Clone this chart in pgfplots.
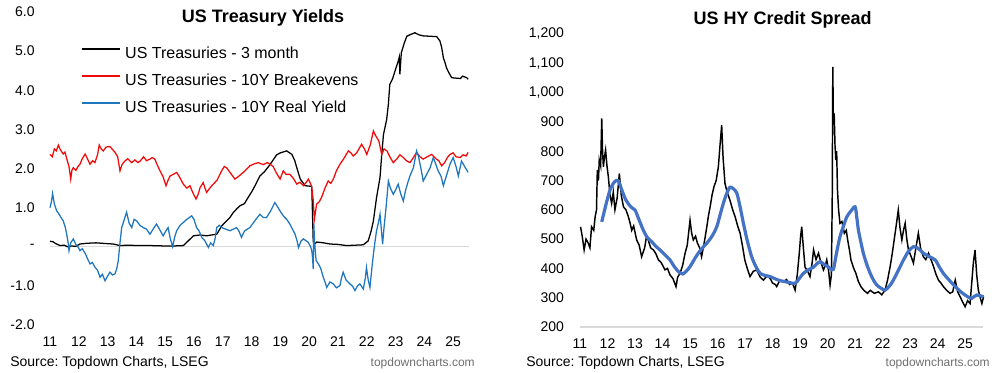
\documentclass[border=0pt]{standalone}
\usepackage{fontspec}
\setmainfont{Liberation Sans}
\usepackage{pgfplots}
\pgfplotsset{compat=1.18}
\definecolor{tredd}{RGB}{240,10,10}
\definecolor{tblue}{RGB}{30,118,190}
\definecolor{hyblue}{RGB}{68,114,196}
\definecolor{zgray}{RGB}{217,217,217}
\definecolor{srcgray}{RGB}{110,110,110}
\frenchspacing
\begin{document}
\begin{tikzpicture}
\useasboundingbox (0,0) rectangle (750pt,279pt);
\pgfplotsset{
  base/.style={
    scale only axis,
    anchor=south west,
    axis line style={draw=none},
    major tick length=0pt,
    tick style={draw=none},
    ticklabel style={font=\fontsize{10.5}{12}\selectfont},
    xtick={2011,2012,2013,2014,2015,2016,2017,2018,2019,2020,2021,2022,2023,2024,2025},
    xticklabels={11,12,13,14,15,16,17,18,19,20,21,22,23,24,25},
    clip=false,
  }
}
% ---------------- Left panel ----------------
\begin{axis}[base,
  at={(37.5pt,35.25pt)}, width=314.25pt, height=234.75pt,
  xmin=2011, xmax=2025.55, ymin=-2, ymax=6,
  ytick={-2,-1,0,1,2,3,4,5,6},
  yticklabels={-2.0,-1.0,-,1.0,2.0,3.0,4.0,5.0,6.0},
  yticklabel style={xshift=-8pt},
  xticklabel style={yshift=-5pt},
  legend style={draw=none, fill=none, at={(rel axis cs:0.074,0.89)}, anchor=north west,
    inner sep=0pt, row sep=9.25pt, font=\fontsize{12}{14}\selectfont,
    nodes={inner sep=0pt, text height=8.5pt, text depth=2.5pt}},
  legend cell align=left,
  legend image code/.code={\draw[#1] (0pt,3.7pt) -- (28.5pt,3.7pt);},
  /tikz/every odd column/.append style={column sep=3.5pt},
]
\addplot[zgray, line width=1.1pt, forget plot] coordinates {(2011,0) (2025.55,0)};
\addplot[black, line width=0.95pt] coordinates {
(2011.00,0.14) (2011.10,0.13) (2011.20,0.08) (2011.35,0.03) (2011.50,0.04) (2011.60,0.00)
(2011.75,0.02) (2011.90,0.01) (2012.04,0.07) (2012.30,0.09) (2012.60,0.10) (2012.97,0.08)
(2013.20,0.07) (2013.43,0.03) (2013.70,0.04) (2014.10,0.03) (2014.50,0.03) (2015.00,0.02)
(2015.30,0.02) (2015.63,0.03) (2015.80,0.15) (2015.98,0.28) (2016.20,0.30) (2016.44,0.28)
(2016.60,0.30) (2016.79,0.32) (2016.96,0.53) (2017.13,0.66) (2017.25,0.75) (2017.37,0.88)
(2017.50,0.98) (2017.60,1.05) (2017.75,1.10) (2017.88,1.26) (2018.00,1.40) (2018.12,1.56)
(2018.29,1.81) (2018.45,1.92) (2018.64,2.10) (2018.87,2.35) (2019.00,2.40) (2019.22,2.45)
(2019.40,2.36) (2019.50,2.20) (2019.57,2.02) (2019.69,1.73) (2019.86,1.56) (2020.00,1.55)
(2020.09,1.54) (2020.14,0.15) (2020.17,0.05) (2020.26,0.12) (2020.50,0.10) (2020.72,0.07)
(2021.00,0.06) (2021.30,0.03) (2021.60,0.04) (2021.88,0.05) (2022.05,0.15) (2022.15,0.40)
(2022.23,0.66) (2022.34,1.26) (2022.46,1.77) (2022.52,2.36) (2022.58,2.87) (2022.63,3.04)
(2022.69,3.25) (2022.75,3.64) (2022.80,4.15) (2022.90,4.30) (2022.98,4.49) (2023.09,4.74)
(2023.13,4.85) (2023.15,4.41) (2023.20,4.96) (2023.30,5.20) (2023.39,5.38) (2023.50,5.42)
(2023.67,5.47) (2023.80,5.42) (2023.96,5.39) (2024.20,5.38) (2024.43,5.37) (2024.54,5.26)
(2024.60,5.10) (2024.66,4.83) (2024.72,4.70) (2024.77,4.57) (2024.85,4.45) (2024.95,4.32)
(2025.10,4.31) (2025.25,4.30) (2025.33,4.36) (2025.40,4.34) (2025.47,4.32) (2025.52,4.28)
};
\addlegendentry{US Treasuries - 3 month}
\addplot[tredd, line width=0.95pt] coordinates {
(2011.00,2.36) (2011.08,2.30) (2011.15,2.50) (2011.22,2.45) (2011.29,2.60) (2011.36,2.48)
(2011.46,2.37) (2011.52,2.42) (2011.60,2.20) (2011.66,2.05) (2011.72,1.73) (2011.76,1.95)
(2011.81,2.02) (2011.90,1.95) (2011.97,2.05) (2012.04,2.11) (2012.12,2.25) (2012.22,2.37)
(2012.30,2.25) (2012.39,2.11) (2012.48,2.20) (2012.56,2.15) (2012.65,2.35) (2012.71,2.60)
(2012.78,2.50) (2012.85,2.45) (2012.95,2.55) (2013.08,2.56) (2013.18,2.48) (2013.26,2.41)
(2013.35,2.30) (2013.43,1.94) (2013.50,2.10) (2013.60,2.19) (2013.70,2.25) (2013.84,2.15)
(2013.95,2.22) (2014.05,2.15) (2014.13,2.19) (2014.25,2.30) (2014.35,2.20) (2014.47,2.24)
(2014.55,2.28) (2014.64,2.24) (2014.72,2.10) (2014.82,1.94) (2014.92,1.80) (2015.03,1.56)
(2015.10,1.70) (2015.17,1.81) (2015.28,1.85) (2015.40,1.90) (2015.50,1.78) (2015.63,1.60)
(2015.75,1.50) (2015.86,1.56) (2015.95,1.40) (2016.07,1.22) (2016.15,1.35) (2016.21,1.51)
(2016.32,1.64) (2016.38,1.50) (2016.44,1.39) (2016.55,1.50) (2016.67,1.60) (2016.80,1.70)
(2016.96,1.94) (2017.05,2.05) (2017.13,2.02) (2017.25,1.90) (2017.42,1.73) (2017.55,1.80)
(2017.71,1.90) (2017.85,2.00) (2017.94,2.07) (2018.10,2.12) (2018.23,2.15) (2018.40,2.10)
(2018.55,2.15) (2018.64,2.11) (2018.75,2.05) (2018.85,1.90) (2018.99,1.73) (2019.10,1.94)
(2019.20,1.85) (2019.33,1.85) (2019.45,1.75) (2019.57,1.60) (2019.68,1.65) (2019.80,1.56)
(2019.90,1.65) (2019.97,1.73) (2020.08,1.56) (2020.14,1.20) (2020.18,0.70) (2020.22,0.90)
(2020.26,1.09) (2020.35,1.15) (2020.43,1.26) (2020.55,1.50) (2020.66,1.68) (2020.75,1.62)
(2020.84,1.73) (2020.95,1.95) (2021.07,2.11) (2021.20,2.25) (2021.36,2.45) (2021.45,2.40)
(2021.53,2.32) (2021.65,2.40) (2021.82,2.62) (2021.92,2.50) (2022.00,2.36) (2022.12,2.60)
(2022.23,2.96) (2022.30,2.85) (2022.42,2.70) (2022.52,2.36) (2022.60,2.50) (2022.70,2.45)
(2022.80,2.30) (2022.92,2.15) (2023.05,2.25) (2023.15,2.35) (2023.27,2.28) (2023.38,2.20)
(2023.50,2.15) (2023.62,2.28) (2023.73,2.41) (2023.85,2.30) (2023.96,2.24) (2024.10,2.30)
(2024.25,2.36) (2024.40,2.25) (2024.50,2.20) (2024.60,2.07) (2024.70,2.15) (2024.80,2.28)
(2024.89,2.36) (2025.00,2.40) (2025.10,2.30) (2025.24,2.28) (2025.35,2.35) (2025.45,2.32)
(2025.52,2.41)
};
\addlegendentry{US Treasuries - 10Y Breakevens}
\addplot[tblue, line width=0.95pt] coordinates {
(2011.00,1.00) (2011.05,1.15) (2011.09,1.36) (2011.15,1.10) (2011.23,0.92) (2011.30,0.85)
(2011.38,0.75) (2011.46,0.66) (2011.53,0.50) (2011.58,0.32) (2011.63,0.10) (2011.66,-0.10)
(2011.72,0.10) (2011.81,0.20) (2011.90,0.05) (2011.97,0.00) (2012.04,-0.10) (2012.12,-0.05)
(2012.22,-0.17) (2012.30,-0.30) (2012.39,-0.44) (2012.47,-0.40) (2012.56,-0.52) (2012.65,-0.60)
(2012.74,-0.78) (2012.82,-0.70) (2012.91,-0.87) (2013.00,-0.75) (2013.08,-0.65) (2013.17,-0.72)
(2013.26,-0.69) (2013.32,-0.55) (2013.37,-0.36) (2013.43,0.10) (2013.49,0.49) (2013.58,0.70)
(2013.66,0.88) (2013.75,0.60) (2013.84,0.49) (2013.92,0.70) (2014.01,0.66) (2014.12,0.55)
(2014.24,0.49) (2014.35,0.45) (2014.47,0.32) (2014.58,0.45) (2014.70,0.58) (2014.80,0.45)
(2014.93,0.28) (2015.02,0.40) (2015.10,0.49) (2015.18,0.20) (2015.26,0.00) (2015.33,0.25)
(2015.40,0.41) (2015.52,0.55) (2015.63,0.62) (2015.75,0.70) (2015.92,0.79) (2016.00,0.70)
(2016.09,0.49) (2016.18,0.40) (2016.27,0.24) (2016.38,0.15) (2016.50,-0.02) (2016.58,0.10)
(2016.67,0.03) (2016.73,0.20) (2016.79,0.49) (2016.88,0.55) (2016.96,0.49) (2017.10,0.45)
(2017.25,0.41) (2017.37,0.45) (2017.48,0.49) (2017.56,0.40) (2017.65,0.24) (2017.75,0.40)
(2017.85,0.45) (2017.94,0.49) (2018.05,0.60) (2018.15,0.70) (2018.29,0.83) (2018.40,0.75)
(2018.52,0.75) (2018.65,0.90) (2018.81,1.13) (2018.92,1.00) (2019.00,0.90) (2019.10,0.79)
(2019.22,0.70) (2019.33,0.58) (2019.42,0.45) (2019.51,0.32) (2019.58,0.15) (2019.63,-0.02)
(2019.72,0.15) (2019.80,0.20) (2019.90,0.15) (2019.97,0.11) (2020.05,0.00) (2020.09,-0.10)
(2020.12,-0.30) (2020.14,-0.57) (2020.16,0.60) (2020.19,0.10) (2020.24,-0.35) (2020.32,-0.44)
(2020.40,-0.55) (2020.49,-0.78) (2020.55,-0.90) (2020.61,-1.04) (2020.72,-0.90) (2020.84,-0.95)
(2020.95,-1.05) (2021.07,-0.99) (2021.12,-0.80) (2021.18,-0.65) (2021.28,-0.85) (2021.41,-0.95)
(2021.50,-1.00) (2021.59,-1.12) (2021.68,-1.00) (2021.76,-0.95) (2021.88,-1.08) (2021.95,-0.80)
(2021.99,-0.53) (2022.05,-0.85) (2022.11,-1.04) (2022.17,-0.60) (2022.23,-0.19) (2022.28,0.10)
(2022.34,0.41) (2022.40,0.60) (2022.46,0.83) (2022.55,0.07) (2022.60,0.50) (2022.67,1.00)
(2022.75,1.68) (2022.82,1.50) (2022.92,1.34) (2023.00,1.45) (2023.09,1.60) (2023.18,1.35)
(2023.27,1.17) (2023.35,1.45) (2023.44,1.68) (2023.52,1.85) (2023.62,2.02) (2023.73,2.45)
(2023.80,2.30) (2023.85,2.11) (2023.92,1.85) (2023.96,1.68) (2024.08,1.85) (2024.20,2.02)
(2024.31,2.28) (2024.40,2.10) (2024.48,1.94) (2024.58,1.80) (2024.66,1.56) (2024.78,1.85)
(2024.89,2.11) (2025.00,2.28) (2025.10,2.05) (2025.18,1.81) (2025.29,2.19) (2025.40,2.05)
(2025.52,1.90)
};
\addlegendentry{US Treasuries - 10Y Real Yield}
\end{axis}
% ---------------- Right panel ----------------
\begin{axis}[base,
  at={(435pt,33.75pt)}, width=302.25pt, height=219.75pt,
  xmin=2011, xmax=2025.65, ymin=200, ymax=1200,
  ytick={200,300,400,500,600,700,800,900,1000,1100,1200},
  yticklabels={200,300,400,500,600,700,800,900,{1,000},{1,100},{1,200}},
  yticklabel style={xshift=-8.5pt},
  xticklabel style={yshift=-5pt},
]
\addplot[zgray, line width=1.1pt] coordinates {(2011,200) (2025.65,200)};
\addplot[black, line width=1.1pt] coordinates {
(2011.02,542) (2011.08,510) (2011.15,463) (2011.22,500) (2011.30,486) (2011.36,470)
(2011.42,542) (2011.50,530) (2011.55,576) (2011.60,600) (2011.63,736) (2011.67,700)
(2011.70,770) (2011.75,750) (2011.79,912) (2011.82,800) (2011.85,747) (2011.89,780)
(2011.93,804) (2011.98,750) (2012.03,713) (2012.09,650) (2012.15,622) (2012.21,660)
(2012.27,600) (2012.35,640) (2012.43,724) (2012.50,650) (2012.58,610) (2012.67,600)
(2012.76,576) (2012.82,555) (2012.88,530) (2012.95,545) (2013.06,497) (2013.15,480)
(2013.24,440) (2013.35,470) (2013.42,510) (2013.48,497) (2013.57,470) (2013.67,463)
(2013.76,450) (2013.85,429) (2013.95,420) (2014.09,395) (2014.18,400) (2014.27,378)
(2014.38,365) (2014.49,338) (2014.55,370) (2014.64,384) (2014.73,410) (2014.82,452)
(2014.90,480) (2015.00,565) (2015.06,520) (2015.12,497) (2015.20,510) (2015.27,486)
(2015.35,470) (2015.42,440) (2015.52,490) (2015.61,542) (2015.67,580) (2015.73,610)
(2015.80,650) (2015.87,679) (2015.95,700) (2016.03,747) (2016.09,820) (2016.15,889)
(2016.20,780) (2016.27,690) (2016.35,660) (2016.45,633) (2016.55,600) (2016.64,576)
(2016.73,545) (2016.82,520) (2016.90,480) (2016.99,429) (2017.08,400) (2017.18,372)
(2017.30,390) (2017.42,395) (2017.55,370) (2017.67,360) (2017.80,375) (2017.91,366)
(2018.00,350) (2018.10,345) (2018.15,338) (2018.27,360) (2018.40,355) (2018.51,362)
(2018.62,345) (2018.72,350) (2018.82,326) (2018.90,380) (2018.97,450) (2019.02,510)
(2019.06,542) (2019.12,470) (2019.18,404) (2019.28,390) (2019.36,372) (2019.44,420)
(2019.49,463) (2019.58,430) (2019.67,452) (2019.76,420) (2019.85,395) (2019.92,410)
(2019.97,429) (2020.04,390) (2020.09,343) (2020.14,380) (2020.17,650) (2020.19,1088)
(2020.21,900) (2020.24,929) (2020.27,820) (2020.30,770) (2020.33,800) (2020.36,667)
(2020.40,600) (2020.45,554) (2020.52,560) (2020.61,520) (2020.68,530) (2020.73,497)
(2020.80,460) (2020.85,429) (2020.95,400) (2021.03,383) (2021.12,355) (2021.21,338)
(2021.32,325) (2021.45,315) (2021.55,325) (2021.70,315) (2021.85,320) (2021.97,310)
(2022.09,326) (2022.18,360) (2022.27,404) (2022.35,450) (2022.42,497) (2022.50,550)
(2022.57,599) (2022.63,540) (2022.70,497) (2022.76,530) (2022.82,554) (2022.88,500)
(2022.94,463) (2023.04,440) (2023.12,418) (2023.21,470) (2023.30,520) (2023.38,470)
(2023.48,440) (2023.57,430) (2023.67,452) (2023.76,430) (2023.85,407) (2023.94,380)
(2024.03,360) (2024.12,350) (2024.21,338) (2024.33,325) (2024.45,315) (2024.55,320)
(2024.64,360) (2024.73,320) (2024.82,303) (2024.91,285) (2025.00,269) (2025.09,290)
(2025.18,280) (2025.24,350) (2025.30,420) (2025.36,463) (2025.42,380) (2025.48,326)
(2025.55,300) (2025.61,280) (2025.67,303)
};
\addplot[hyblue, line width=2.4pt, smooth] coordinates {
(2011.79,559) (2011.95,620) (2012.09,667) (2012.25,695) (2012.39,699) (2012.53,665)
(2012.67,633) (2012.85,610) (2013.00,599) (2013.15,565) (2013.30,531) (2013.45,505)
(2013.61,491) (2013.76,475) (2013.91,463) (2014.10,445) (2014.27,429) (2014.40,410)
(2014.52,395) (2014.63,385) (2014.73,381) (2014.86,390) (2015.00,406) (2015.15,430)
(2015.30,452) (2015.45,470) (2015.61,486) (2015.80,510) (2015.97,542) (2016.10,585)
(2016.21,622) (2016.33,655) (2016.45,677) (2016.57,672) (2016.70,657) (2016.82,610)
(2016.94,554) (2017.08,495) (2017.24,440) (2017.40,405) (2017.55,383) (2017.73,376)
(2017.91,372) (2018.21,360) (2018.39,356) (2018.60,352) (2018.82,349) (2018.97,365)
(2019.12,383) (2019.30,395) (2019.48,404) (2019.60,415) (2019.73,423) (2019.85,415)
(2019.97,409) (2020.10,400) (2020.21,397) (2020.33,455) (2020.45,508) (2020.58,545)
(2020.70,576) (2020.85,596) (2021.00,610) (2021.06,575) (2021.12,531) (2021.21,490)
(2021.30,452) (2021.42,415) (2021.55,383) (2021.67,360) (2021.79,343) (2021.95,332)
(2022.09,326) (2022.25,340) (2022.39,360) (2022.58,395) (2022.76,429) (2022.94,458)
(2023.12,474) (2023.30,468) (2023.48,452) (2023.70,440) (2023.91,429) (2024.06,405)
(2024.21,383) (2024.42,360) (2024.64,338) (2024.82,322) (2025.00,309) (2025.12,302)
(2025.24,298) (2025.42,309) (2025.67,303)
};
\end{axis}
% ---------------- Titles and notes ----------------
\node[anchor=base, font=\bfseries\fontsize{13.5}{15}\selectfont] at (197.25pt,262pt) {US Treasury Yields};
\node[anchor=base, font=\bfseries\fontsize{13.5}{15}\selectfont] at (587pt,260.25pt) {US HY Credit Spread};
\node[anchor=base west, inner sep=0pt, font=\fontsize{10.5}{12}\selectfont] at (7.5pt,4.5pt) {Source: Topdown Charts, LSEG};
\node[anchor=base east, inner sep=0pt, text=srcgray, font=\fontsize{9}{11}\selectfont] at (356.25pt,4.5pt) {topdowncharts.com};
\node[anchor=base west, inner sep=0pt, font=\fontsize{10.5}{12}\selectfont] at (394.5pt,4.5pt) {Source: Topdown Charts, LSEG};
\node[anchor=base east, inner sep=0pt, text=srcgray, font=\fontsize{9}{11}\selectfont] at (742.5pt,4.5pt) {topdowncharts.com};
\end{tikzpicture}
\end{document}
